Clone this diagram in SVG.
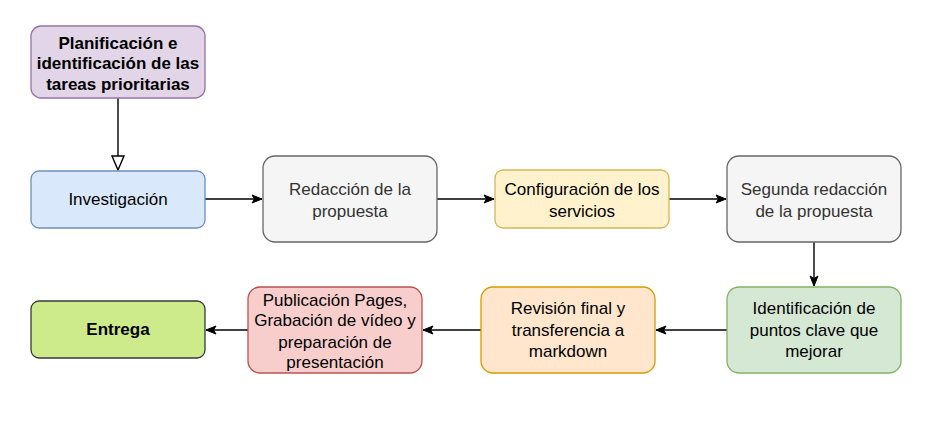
<svg xmlns="http://www.w3.org/2000/svg" width="929" height="437" viewBox="0 0 929 437">
<style>
.n{stroke-width:1.3}
.t{font-family:"Liberation Sans",Arial,sans-serif;font-size:17px;text-anchor:middle;fill:#000}
.b{font-weight:bold}
.g{fill:#333333}
.c{fill:none;stroke:#000;stroke-width:1.4}
</style>
<defs>
<marker id="a" markerWidth="12" markerHeight="10" refX="11" refY="5" orient="auto" markerUnits="userSpaceOnUse">
<path d="M1,1 L11,5 L1,9 L3.5,5 Z" fill="#000" stroke="#000" stroke-width="1"/>
</marker>
<marker id="o" markerWidth="16" markerHeight="14" refX="15" refY="7" orient="auto" markerUnits="userSpaceOnUse">
<path d="M1,1 L15,7 L1,13 Z" fill="#fff" stroke="#000" stroke-width="1.4"/>
</marker>
</defs>
<rect width="929" height="437" fill="#fff"/>
<g id="connectors">
<line class="c" x1="118" y1="98" x2="118" y2="170" marker-end="url(#o)"/>
<line class="c" x1="205" y1="199" x2="262" y2="199" marker-end="url(#a)"/>
<line class="c" x1="437" y1="199" x2="494" y2="199" marker-end="url(#a)"/>
<line class="c" x1="669" y1="199" x2="726" y2="199" marker-end="url(#a)"/>
<line class="c" x1="814" y1="242" x2="814" y2="286" marker-end="url(#a)"/>
<line class="c" x1="727" y1="330" x2="656" y2="330" marker-end="url(#a)"/>
<line class="c" x1="481" y1="330" x2="423" y2="330" marker-end="url(#a)"/>
<line class="c" x1="248" y1="330" x2="206" y2="330" marker-end="url(#a)"/>
</g>
<g id="planificacion">
<rect class="n" x="31" y="26" width="174" height="72" rx="10" fill="#e1d5e7" stroke="#9673a6"/>
<text class="t b" x="118" y="49">Planificación e</text>
<text class="t b" x="118" y="69">identificación de las</text>
<text class="t b" x="118" y="90">tareas prioritarias</text>
</g>
<g id="investigacion">
<rect class="n" x="31" y="171" width="174" height="57" rx="8" fill="#dae8fc" stroke="#6c8ebf"/>
<text class="t" x="118" y="205">Investigación</text>
</g>
<g id="redaccion">
<rect class="n" x="263" y="156" width="174" height="86" rx="12" fill="#f5f5f5" stroke="#666666"/>
<text class="t g" x="350" y="195">Redacción de la</text>
<text class="t g" x="350" y="217">propuesta</text>
</g>
<g id="configuracion">
<rect class="n" x="495" y="170" width="174" height="58" rx="8" fill="#fff2cc" stroke="#d6b656"/>
<text class="t" x="582" y="195">Configuración de los</text>
<text class="t" x="582" y="217">servicios</text>
</g>
<g id="segunda">
<rect class="n" x="727" y="156" width="174" height="86" rx="12" fill="#f5f5f5" stroke="#666666"/>
<text class="t g" x="814" y="195">Segunda redacción</text>
<text class="t g" x="814" y="217">de la propuesta</text>
</g>
<g id="identificacion">
<rect class="n" x="727" y="287" width="174" height="86" rx="12" fill="#d5e8d4" stroke="#82b366"/>
<text class="t" x="814" y="314">Identificación de</text>
<text class="t" x="814" y="336">puntos clave que</text>
<text class="t" x="814" y="357">mejorar</text>
</g>
<g id="revision">
<rect class="n" x="481" y="287" width="174" height="86" rx="12" fill="#ffe6cc" stroke="#d79b00"/>
<text class="t" x="568" y="314">Revisión final y</text>
<text class="t" x="568" y="336">transferencia a</text>
<text class="t" x="568" y="357">markdown</text>
</g>
<g id="publicacion">
<rect class="n" x="248" y="287" width="174" height="86" rx="12" fill="#f8cecc" stroke="#b85450"/>
<text class="t" x="335" y="306">Publicación Pages,</text>
<text class="t" x="335" y="326">Grabación de vídeo y</text>
<text class="t" x="335" y="348">preparación de</text>
<text class="t" x="335" y="368">presentación</text>
</g>
<g id="entrega">
<rect class="n" x="31" y="301" width="174" height="57" rx="8" fill="#cdeb8b" stroke="#36393d"/>
<text class="t b" x="118" y="335">Entrega</text>
</g>
</svg>
